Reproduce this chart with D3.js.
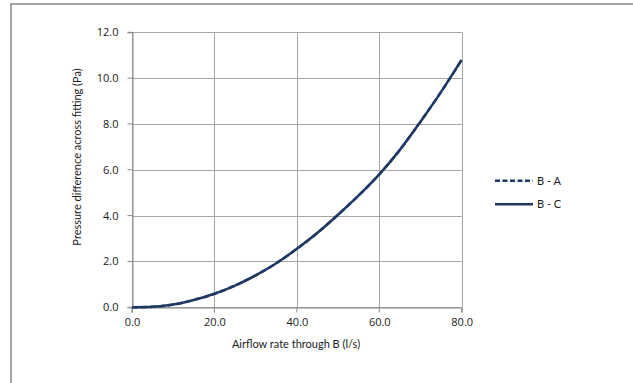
<!DOCTYPE html>
<html>
<head>
<meta charset="utf-8">
<script src="https://cdn.jsdelivr.net/npm/d3@7"></script>
<style>
  html, body { margin: 0; padding: 0; background: #fff; }
  svg { display: block; }
  text { font-family: Lato, "Open Sans", sans-serif; fill: #1a1a1a; }
</style>
</head>
<body>
<svg id="chart" width="633" height="383"></svg>
<script>
// ---- Data ----
const airflow = [0, 5, 10, 15, 20, 25, 30, 35, 40, 45, 50, 55, 60, 65, 70, 75, 80];
const pressureBA = [0, 0.02, 0.12, 0.32, 0.59, 0.95, 1.39, 1.92, 2.55, 3.25, 4.04, 4.88, 5.80, 6.87, 8.10, 9.40, 10.80];
const pressureBC = [0, 0.02, 0.12, 0.32, 0.59, 0.95, 1.39, 1.92, 2.55, 3.25, 4.04, 4.88, 5.80, 6.87, 8.10, 9.40, 10.80];
const seriesNames = ["B - A", "B - C"];
const xTicks = [0, 20, 40, 60, 80];
const yTicks = [0, 2, 4, 6, 8, 10, 12];
const xTitle = "Airflow rate through B (l/s)";
const yTitle = "Pressure difference across fitting (Pa)";

const svg = d3.select("#chart");
const W = 633, H = 383;
const color = "#1f3864";

// outer chart border
svg.append("rect").attr("x", 11).attr("y", 4).attr("width", W - 11 + 5).attr("height", H - 4 + 5)
  .attr("fill", "none").attr("stroke", "#868686").attr("stroke-width", 1.5);

const plot = { left: 132, right: 461.7, top: 32.3, bottom: 307.3 };
const x = d3.scaleLinear().domain([0, 80]).range([plot.left, plot.right]);
const y = d3.scaleLinear().domain([0, 12]).range([plot.bottom, plot.top]);

// gridlines
const g = svg.append("g");
g.selectAll(".hgrid").data(yTicks).join("line")
  .attr("x1", plot.left).attr("x2", plot.right)
  .attr("y1", d => Math.round(y(d)) + 0.5).attr("y2", d => Math.round(y(d)) + 0.5)
  .attr("stroke", "#a6a6a6").attr("stroke-width", 1);
g.selectAll(".vgrid").data(xTicks).join("line")
  .attr("x1", d => Math.round(x(d)) + 0.5).attr("x2", d => Math.round(x(d)) + 0.5)
  .attr("y1", plot.top).attr("y2", plot.bottom)
  .attr("stroke", "#a6a6a6").attr("stroke-width", 1);

// axes
const xAxis = d3.axisBottom(x).tickValues(xTicks).tickFormat(d3.format(".1f")).tickSize(5).tickPadding(6);
const yAxis = d3.axisLeft(y).tickValues(yTicks).tickFormat(d3.format(".1f")).tickSize(5).tickPadding(9);
const gx = svg.append("g").attr("transform", `translate(0,${Math.round(plot.bottom) + 0.5})`).call(xAxis);
const gy = svg.append("g").attr("transform", `translate(${Math.round(plot.left) + 0.5},0)`).call(yAxis);
[gx, gy].forEach(ax => {
  ax.select(".domain").attr("stroke", "#868686");
  ax.selectAll(".tick line").attr("stroke", "#868686");
  ax.selectAll(".tick text").style("font-family", "Open Sans, sans-serif").style("font-size", "11px").attr("fill", "#1a1a1a");
});
gx.selectAll(".tick line").attr("transform", "translate(-0.5,0)");
gy.selectAll(".tick line").attr("transform", "translate(0,-0.5)");

// titles
svg.append("text").attr("x", 296).attr("y", 348).attr("text-anchor", "middle")
  .style("font-size", "11px").text(xTitle);
svg.append("text").attr("transform", "translate(81,157) rotate(-90)").attr("text-anchor", "middle")
  .style("font-size", "11px").text(yTitle);

// lines
const line = d3.line().x((d, i) => x(airflow[i])).y(d => y(d)).curve(d3.curveMonotoneX);
svg.append("path").datum(pressureBA).attr("d", line).attr("fill", "none")
  .attr("stroke", color).attr("stroke-width", 2.5).attr("stroke-dasharray", "6,3");
svg.append("path").datum(pressureBC).attr("d", line).attr("fill", "none")
  .attr("stroke", color).attr("stroke-width", 2.5);

// legend
const legY = [180.7, 204.3];
const leg = svg.append("g");
seriesNames.forEach((name, i) => {
  leg.append("line").attr("x1", 495).attr("x2", 533).attr("y1", legY[i]).attr("y2", legY[i])
    .attr("stroke", color).attr("stroke-width", 2.5)
    .attr("stroke-dasharray", i === 0 ? "5,2.5" : null);
  leg.append("text").attr("x", 537).attr("y", legY[i]).attr("dy", "0.35em")
    .style("font-size", "11px").text(name);
});
</script>
</body>
</html>
